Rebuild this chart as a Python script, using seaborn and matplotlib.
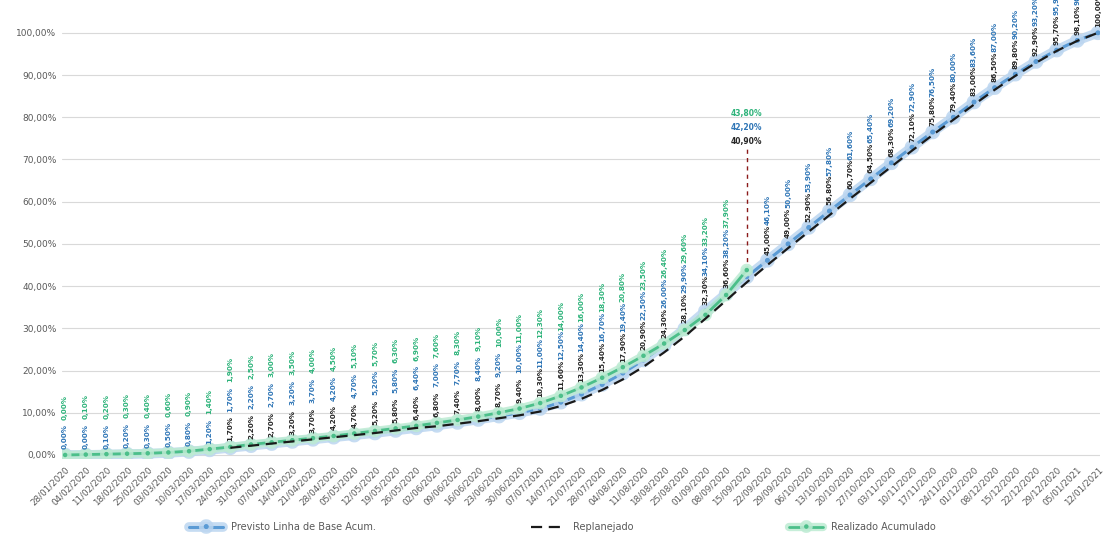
import numpy as np
import pandas as pd
import matplotlib
matplotlib.use("Agg")
import matplotlib.pyplot as plt
import matplotlib.patheffects as pe
import seaborn as sns

# Weekly reporting dates
datas = [
    "28/01/2020", "04/02/2020", "11/02/2020", "18/02/2020", "25/02/2020",
    "03/03/2020", "10/03/2020", "17/03/2020", "24/03/2020", "31/03/2020",
    "07/04/2020", "14/04/2020", "21/04/2020", "28/04/2020", "05/05/2020",
    "12/05/2020", "19/05/2020", "26/05/2020", "02/06/2020", "09/06/2020",
    "16/06/2020", "23/06/2020", "30/06/2020", "07/07/2020", "14/07/2020",
    "21/07/2020", "28/07/2020", "04/08/2020", "11/08/2020", "18/08/2020",
    "25/08/2020", "01/09/2020", "08/09/2020", "15/09/2020", "22/09/2020",
    "29/09/2020", "06/10/2020", "13/10/2020", "20/10/2020", "27/10/2020",
    "03/11/2020", "10/11/2020", "17/11/2020", "24/11/2020", "01/12/2020",
    "08/12/2020", "15/12/2020", "22/12/2020", "29/12/2020", "05/01/2021",
    "12/01/2021",
]

# Cumulative progress (%)
previsto = [
    0.0, 0.0, 0.1, 0.2, 0.3, 0.5, 0.8, 1.2, 1.7, 2.2,
    2.7, 3.2, 3.7, 4.2, 4.7, 5.2, 5.8, 6.4, 7.0, 7.7,
    8.4, 9.2, 10.0, 11.0, 12.5, 14.4, 16.7, 19.4, 22.5, 26.0,
    29.9, 34.1, 38.2, 42.2, 46.1, 50.0, 53.9, 57.8, 61.6, 65.4,
    69.2, 72.9, 76.5, 80.0, 83.6, 87.0, 90.2, 93.2, 95.9, 98.2,
    100.0,
]
replanejado = [
    None, None, None, None, None, None, None, None, 1.7, 2.2,
    2.7, 3.2, 3.7, 4.2, 4.7, 5.2, 5.8, 6.4, 6.8, 7.4,
    8.0, 8.7, 9.4, 10.3, 11.6, 13.3, 15.4, 17.9, 20.9, 24.3,
    28.1, 32.3, 36.6, 40.9, 45.0, 49.0, 52.9, 56.8, 60.7, 64.5,
    68.3, 72.1, 75.8, 79.4, 83.0, 86.5, 89.8, 92.9, 95.7, 98.1,
    100.0,
]
realizado = [
    0.0, 0.1, 0.2, 0.3, 0.4, 0.6, 0.9, 1.4, 1.9, 2.5,
    3.0, 3.5, 4.0, 4.5, 5.1, 5.7, 6.3, 6.9, 7.6, 8.3,
    9.1, 10.0, 11.0, 12.3, 14.0, 16.0, 18.3, 20.8, 23.5, 26.4,
    29.6, 33.2, 37.9, 43.8,
]
corte = 33  # status date: last measured week

nomes = ["Previsto Linha de Base Acum.", "Replanejado", "Realizado Acumulado"]
AZUL, PRETO, VERDE = "#5B9BD5", "#1A1A1A", "#4CBF8A"
AZUL_TXT, PRETO_TXT, VERDE_TXT = "#2E75B6", "#262626", "#2DB37A"
CINZA = "#595959"

sns.set_theme(style="white")
plt.rcParams["font.family"] = ["DejaVu Sans"]

W, H = 1103, 538
fig = plt.figure(figsize=(W / 100, H / 100), dpi=100)
ax = fig.add_axes([62 / W, (H - 459.2) / H, 1038 / W, 457.2 / H])

idx = np.arange(len(datas))
df_prev = pd.DataFrame({"x": idx, "y": previsto})
df_repl = pd.DataFrame({"x": idx, "y": pd.to_numeric(pd.Series(replanejado), errors="coerce")}).dropna()
df_real = pd.DataFrame({"x": idx[: len(realizado)], "y": realizado})

sns.lineplot(data=df_prev, x="x", y="y", ax=ax, color=AZUL, lw=2.2,
             marker="o", markersize=3.5, markeredgewidth=0, label=nomes[0],
             path_effects=[pe.Stroke(linewidth=7, foreground="#BCD6F0", alpha=0.85), pe.Normal()])
sns.lineplot(data=df_real, x="x", y="y", ax=ax, color=VERDE, lw=2.0,
             marker="o", markersize=3.2, markeredgewidth=0, label=nomes[2],
             path_effects=[pe.Stroke(linewidth=6, foreground="#BDEBD3", alpha=0.85), pe.Normal()])
sns.lineplot(data=df_repl, x="x", y="y", ax=ax, color=PRETO, lw=1.6,
             dashes=False, label=nomes[1])
for ln in ax.get_lines():
    if ln.get_label() == nomes[1]:
        ln.set_linestyle((0, (5, 3)))


def fmt(v):
    return f"{v:.2f}%".replace(".", ",")


# Stacked vertical value labels above each week
for i in idx:
    if i == corte:
        continue
    pilha = []
    if replanejado[i] is not None:
        pilha.append((replanejado[i], PRETO_TXT))
    pilha.append((previsto[i], AZUL_TXT))
    if i < len(realizado):
        pilha.append((realizado[i], VERDE_TXT))
    topo = max(v for v, _ in pilha)
    off = 4
    for v, c in pilha:
        ax.annotate(fmt(v), (i, topo), xytext=(0, off), textcoords="offset points",
                    rotation=90, ha="center", va="bottom", fontsize=5.2,
                    fontweight="bold", color=c, annotation_clip=False)
        off += 21.5

# Status-date marker
base = max(previsto[corte], replanejado[corte], realizado[corte])
ax.vlines(corte, base, 72.5, colors="#8B1A1A", linestyles=(0, (3, 3)), lw=1.0, zorder=1)
for v, c, yy in [(replanejado[corte], PRETO_TXT, 74.2),
                 (previsto[corte], AZUL_TXT, 77.6),
                 (realizado[corte], VERDE_TXT, 81.0)]:
    ax.text(corte, yy, fmt(v), ha="center", va="center", fontsize=5.5,
            fontweight="bold", color=c)

# Axes styling
ax.set_xlim(-0.15, len(datas) - 1 + 0.1)
ax.set_ylim(-1, 107.3)
ax.set_yticks(np.arange(0, 101, 10))
ax.set_yticklabels([fmt(v) for v in np.arange(0, 101, 10)], fontsize=6.5, color=CINZA)
ax.set_xticks(idx)
ax.set_xticklabels(datas, rotation=45, ha="right", rotation_mode="anchor",
                   fontsize=6.3, color=CINZA)
ax.tick_params(axis="both", length=0, pad=4)
ax.yaxis.grid(True, color="#D9D9D9", lw=0.8)
ax.xaxis.grid(False)
ax.set_axisbelow(True)
for s in ax.spines.values():
    s.set_visible(False)
ax.set_xlabel("")
ax.set_ylabel("")

handles, labels = ax.get_legend_handles_labels()
ordem = [labels.index(n) for n in nomes]
ax.get_legend().remove()
fig.legend([handles[k] for k in ordem], nomes, loc="lower center",
           bbox_to_anchor=(0.51, -0.005), ncol=3, frameon=False, fontsize=7,
           columnspacing=16, handlelength=3.5, labelcolor=CINZA)

fig.savefig("out.png", dpi=100)
